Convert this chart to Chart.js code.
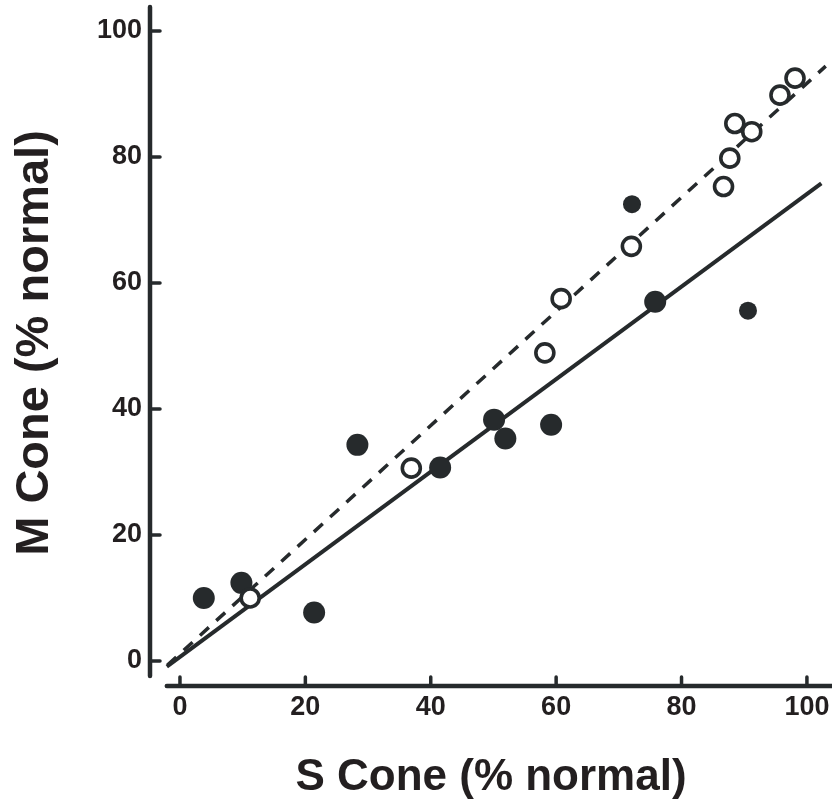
<!DOCTYPE html>
<html>
<head>
<meta charset="utf-8">
<script src="https://cdn.jsdelivr.net/npm/chart.js@4"></script>
<style>
  html, body { margin: 0; padding: 0; background: #fff; }
  #wrap { width: 832px; height: 805px; }
</style>
</head>
<body>
<div id="wrap"><canvas id="coneChart"></canvas></div>
<script>
// S cone vs M cone, both in % of normal
const filledS = [3.8, 9.8, 21.4, 28.3, 41.5, 50.1, 51.9, 59.2, 72.1, 75.8, 90.6];
const filledM = [10.0, 12.4, 7.7, 34.3, 30.7, 38.3, 35.3, 37.5, 72.5, 57.0, 55.6];
const openS = [11.2, 36.9, 58.2, 60.8, 72.0, 86.7, 87.7, 88.5, 91.2, 95.7, 98.1];
const openM = [10.0, 30.6, 48.9, 57.5, 65.8, 75.3, 79.8, 85.3, 84.0, 89.8, 92.5];

// fit lines - end points
const solidFitS = [-2.1, 102.3];
const solidFitM = [-0.9, 75.8];
const dashFitS = [-2.0, 103.0];
const dashFitM = [-0.65, 94.4];

const xTicks = [0, 20, 40, 60, 80, 100];
const yTicks = [0, 20, 40, 60, 80, 100];

const dark = '#262a2c';
const textColor = '#231f20';
const family = '"Liberation Sans", Arial, Helvetica, sans-serif';

// two of the filled dots are drawn a bit smaller
const smallFilled = [8, 10];

const toPoints = (xs, ys) => xs.map((v, i) => ({ x: v, y: ys[i] }));

// axes are drawn detached from each other (x starts right of the y axis, y ends above the x axis)
const offsetAxes = {
    id: 'offsetAxes',
    beforeDatasetsDraw(chart) {
        const { ctx, scales: { x, y } } = chart;
        const ax = chart.chartArea.left;
        const ay = chart.chartArea.bottom;

        ctx.save();
        ctx.strokeStyle = dark;
        ctx.lineCap = 'round';

        ctx.lineWidth = 4.5;
        ctx.beginPath();
        ctx.moveTo(ax, y.getPixelForValue(103.8));
        ctx.lineTo(ax, y.getPixelForValue(-2.4));
        ctx.moveTo(x.getPixelForValue(-2.1), ay);
        ctx.lineTo(x.getPixelForValue(105), ay);
        ctx.stroke();

        // inward ticks
        ctx.lineWidth = 3.5;
        ctx.beginPath();
        yTicks.forEach(v => {
            const p = y.getPixelForValue(v);
            ctx.moveTo(ax, p);
            ctx.lineTo(ax + 10, p);
        });
        xTicks.forEach(v => {
            const p = x.getPixelForValue(v);
            ctx.moveTo(p, ay);
            ctx.lineTo(p, ay - 9);
        });
        ctx.stroke();
        ctx.restore();
    }
};

new Chart(document.getElementById('coneChart'), {
    type: 'scatter',
    data: {
        datasets: [
            {
                label: 'open',
                data: toPoints(openS, openM),
                order: 0,
                pointRadius: 9,
                pointBorderWidth: 3.6,
                pointBackgroundColor: '#ffffff',
                pointBorderColor: dark
            },
            {
                label: 'filled',
                data: toPoints(filledS, filledM),
                order: 1,
                pointRadius: c => smallFilled.includes(c.dataIndex) ? 9 : 11,
                pointBorderWidth: 0,
                pointBackgroundColor: dark,
                pointBorderColor: dark
            },
            {
                type: 'line',
                label: 'open fit',
                data: toPoints(dashFitS, dashFitM),
                order: 2,
                borderColor: dark,
                borderWidth: 3.5,
                borderDash: [12, 10],
                pointRadius: 0,
                fill: false
            },
            {
                type: 'line',
                label: 'filled fit',
                data: toPoints(solidFitS, solidFitM),
                order: 2,
                borderColor: dark,
                borderWidth: 4,
                pointRadius: 0,
                fill: false
            }
        ]
    },
    options: {
        responsive: true,
        maintainAspectRatio: false,
        animation: false,
        layout: { padding: 0, autoPadding: false },
        plugins: {
            legend: { display: false },
            tooltip: { enabled: false }
        },
        scales: {
            x: {
                type: 'linear',
                min: -4.78,
                max: 104.0,
                grid: { display: false, drawTicks: false },
                border: { display: false },
                afterBuildTicks: s => { s.ticks = xTicks.map(v => ({ value: v })); },
                afterFit: s => {
                    s.height = 119;
                    s.paddingLeft = 0;
                    s.paddingRight = 0;
                },
                ticks: {
                    color: textColor,
                    padding: 5,
                    autoSkip: false,
                    maxRotation: 0,
                    font: { family, size: 27, weight: 'bold' }
                },
                title: {
                    display: true,
                    text: 'S Cone (% normal)',
                    color: textColor,
                    padding: { top: 0, bottom: 1 },
                    font: { family, size: 44, weight: 'bold' }
                }
            },
            y: {
                type: 'linear',
                min: -3.97,
                max: 104.9,
                grid: { display: false, drawTicks: false },
                border: { display: false },
                afterBuildTicks: s => { s.ticks = yTicks.map(v => ({ value: v })); },
                afterFit: s => {
                    s.width = 150;
                    s.paddingTop = 0;
                    s.paddingBottom = 0;
                },
                ticks: {
                    color: textColor,
                    padding: 8,
                    autoSkip: false,
                    font: { family, size: 27, weight: 'bold' }
                },
                title: {
                    display: true,
                    text: 'M Cone (% normal)',
                    color: textColor,
                    padding: { top: 7, bottom: 0 },
                    font: { family, size: 47, weight: 'bold' }
                }
            }
        }
    },
    plugins: [offsetAxes]
});
</script>
</body>
</html>
